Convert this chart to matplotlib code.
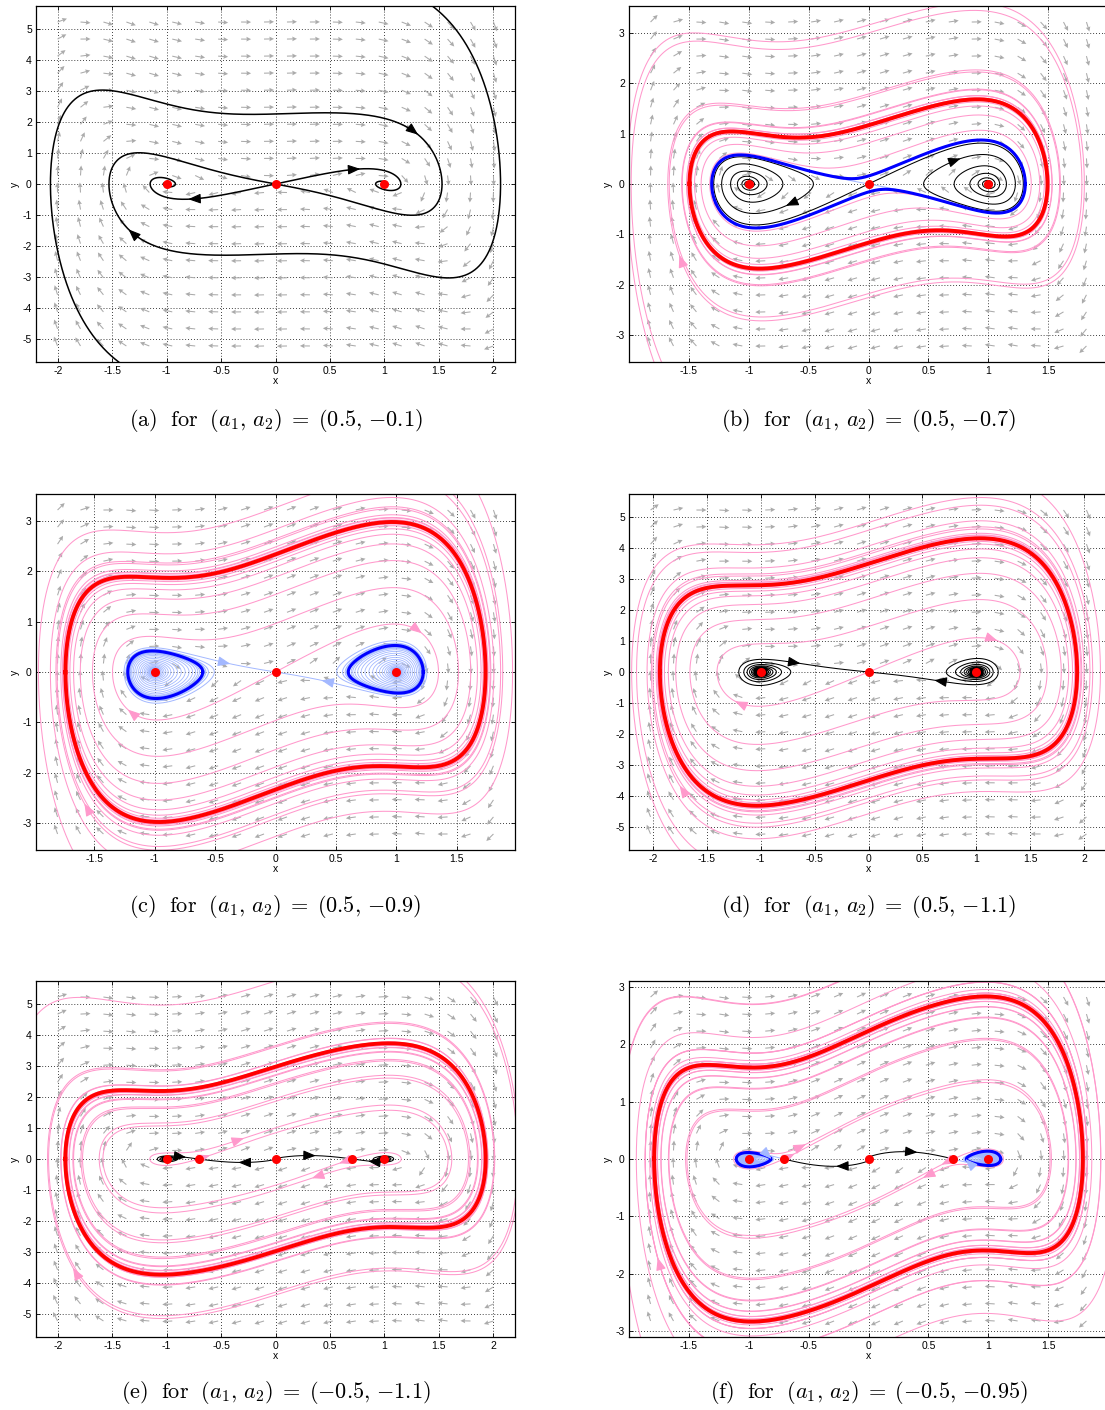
import math
import numpy as np
import matplotlib
matplotlib.use('Agg')
import matplotlib.pyplot as plt

plt.rcParams['mathtext.fontset'] = 'cm'
plt.rcParams['font.family'] = ['Liberation Sans', 'DejaVu Sans']

# system:  x' = y ,  y' = x(1-x^2)(x^2+a1) - (a2+x^2) y
panel_tags = ['a', 'b', 'c', 'd', 'e', 'f']
a1_values = [0.5, 0.5, 0.5, 0.5, -0.5, -0.5]
a2_values = [-0.1, -0.7, -0.9, -1.1, -1.1, -0.95]

x_spans = [2.2, 2.0, 1.98, 2.22, 2.2, 2.0]
y_spans = [5.75, 3.53, 3.53, 5.75, 5.75, 3.1]
wide_x = [-2, -1.5, -1, -0.5, 0, 0.5, 1, 1.5, 2]
narrow_x = [-1.5, -1, -0.5, 0, 0.5, 1, 1.5]
tall_y = [-5, -4, -3, -2, -1, 0, 1, 2, 3, 4, 5]
short_y = [-3, -2, -1, 0, 1, 2, 3]
x_tick_sets = [wide_x, narrow_x, narrow_x, wide_x, wide_x, narrow_x]
y_tick_sets = [tall_y, short_y, short_y, tall_y, tall_y, short_y]

equilibria = [[-1, 0, 1], [-1, 0, 1], [-1, 0, 1], [-1, 0, 1],
              [-1, -0.7071, 0, 0.7071, 1], [-1, -0.7071, 0, 0.7071, 1]]

# seeds for the stable (red) and unstable (blue) limit cycles
red_seeds = [None, (0.0, 1.15), (0.0, 2.3), (0.0, 3.5), (0.0, 3.0), (0.0, 2.2)]
blue_seeds = [[], [(0.0, 0.5)], [(1.1, 0.0), (-1.1, 0.0)], [], [],
              [(1.05, 0.0), (-1.05, 0.0)]]
blue_filled = [False, False, True, False, False, True]

# separatrices: (equilibrium x, 'u'nstable/'s'table, branch, colour, arrow x, arrow y)
manifolds = [
    [(0, 'u', 1, 'black', 0.78, 0.46), (0, 'u', -1, 'black', -0.8, -0.48),
     (0, 's', 1, 'black', 1.31, 1.59), (0, 's', -1, 'black', -1.35, -1.47)],
    [(0, 'u', 1, 'black', 0.77, 0.49), (0, 'u', -1, 'black', -0.69, -0.43),
     (0, 's', 1, 'lightblue', None, None), (0, 's', -1, 'lightblue', None, None)],
    [(0, 'u', 1, 'pink', 1.21, 0.77), (0, 'u', -1, 'pink', -1.23, -0.77),
     (0, 's', 1, 'lightblue', 0.38, -0.17), (0, 's', -1, 'lightblue', -0.37, 0.2)],
    [(0, 'u', 1, 'pink', 1.2, 1.02), (0, 'u', -1, 'pink', -1.24, -0.97),
     (0, 's', 1, 'black', 0.61, -0.27), (0, 's', -1, 'black', -0.63, 0.3)],
    [(0.7071, 'u', 1, 'pink', 0.32, -0.45), (0.7071, 'u', -1, 'pink', 0.6, -0.31),
     (0.7071, 's', 1, 'black', 0.85, -0.1), (0.7071, 's', -1, 'black', 0.37, 0.11),
     (-0.7071, 'u', 1, 'pink', -0.65, 0.33), (-0.7071, 'u', -1, 'pink', -0.28, 0.57),
     (-0.7071, 's', 1, 'black', -0.34, -0.11), (-0.7071, 's', -1, 'black', -0.82, 0.05)],
    [(0.7071, 'u', 1, 'pink', 0.45, -0.31), (0.7071, 'u', -1, 'pink', 0.62, -0.14),
     (0.7071, 's', 1, 'lightblue', 0.8, 0.0), (0.7071, 's', -1, 'black', 0.41, 0.13),
     (-0.7071, 'u', 1, 'pink', -0.66, 0.16), (-0.7071, 'u', -1, 'pink', -0.51, 0.2),
     (-0.7071, 's', 1, 'black', -0.27, -0.15), (-0.7071, 's', -1, 'lightblue', -0.8, 0.0)],
]

# other orbits: (x0, y0, backward time, arrow at start point)
pink_seeds = [
    [],
    [(-1.58, -1.41, 5.0, True), (-1.98, 0.3, 5.0, False), (0.0, 0.45, 40.0, False)],
    [(-1.58, -2.61, 5.0, True), (-1.96, 0.0, 5.0, False), (1.96, 0.0, 5.0, False)],
    [(-1.75, -3.67, 5.0, True), (-2.15, 0.0, 5.0, False), (2.15, 0.0, 5.0, False)],
    [(-1.86, -3.52, 5.0, True), (-1.9, 5.2, 5.0, False)],
    [(-1.76, -1.72, 5.0, True), (-1.97, 2.0, 5.0, False), (-1.91, -3.05, 5.0, False),
     (1.97, -2.0, 5.0, False)],
]

colours = {'black': 'black', 'pink': '#ff99cc', 'lightblue': '#a3b8ff',
           'red': '#ff0000', 'blue': '#0000ff'}

W, H = 1105, 1410
AX_W, AX_H = 479, 356
lefts = [36, 629, 36, 629, 36, 629]
tops = [6, 6, 494, 494, 981, 981]
caption_y = [420, 420, 907, 907, 1393, 1393]


def run(x0, y0, a1, a2, t_max, sign, box, stops):
    xs, ys = [x0], [y0]
    x, y, t = x0, y0, 0.0
    bx, by = box
    n = 0
    moved = False
    while t < t_max:
        u = y
        v = x * (1 - x * x) * (x * x + a1) - (a2 + x * x) * y
        h = sign * 0.005 / max(1.0, math.hypot(u, v) / 3.0)
        xm, ym = x + 0.5 * h * u, y + 0.5 * h * v
        k2x = ym
        k2y = xm * (1 - xm * xm) * (xm * xm + a1) - (a2 + xm * xm) * ym
        xm, ym = x + 0.5 * h * k2x, y + 0.5 * h * k2y
        k3x = ym
        k3y = xm * (1 - xm * xm) * (xm * xm + a1) - (a2 + xm * xm) * ym
        xm, ym = x + h * k3x, y + h * k3y
        k4x = ym
        k4y = xm * (1 - xm * xm) * (xm * xm + a1) - (a2 + xm * xm) * ym
        x += h * (u + 2 * k2x + 2 * k3x + k4x) / 6
        y += h * (v + 2 * k2y + 2 * k3y + k4y) / 6
        t += abs(h)
        xs.append(x)
        ys.append(y)
        if abs(x) > bx or abs(y) > by:
            break
        n += 1
        if n % 10 == 0:
            if not moved:
                moved = (x - x0) ** 2 + (y - y0) ** 2 > 4e-3
            elif any((x - e) ** 2 + y * y < 1e-5 for e in stops):
                break
    xs, ys = np.array(xs), np.array(ys)
    if sign < 0:
        xs, ys = xs[::-1], ys[::-1]
    return xs, ys


def closed_orbit(seed, a1, a2, sign):
    xs, ys = run(seed[0], seed[1], a1, a2, 150.0, sign, (50, 50), [])
    if sign < 0:
        xs, ys = xs[::-1], ys[::-1]
    idx = np.where((ys[:-1] < 0) & (ys[1:] >= 0))[0]
    i0, i1 = idx[-2], idx[-1]
    return xs[i0:i1 + 2], ys[i0:i1 + 2]


def add_arrow(ax, xs, ys, px, py, colour, sx, sy, origin=None):
    d = ((xs - px) * sx) ** 2 + ((ys - py) * sy) ** 2
    if origin is not None:
        # keep the head clear of the saddle it leaves from / runs into
        near = ((xs - origin[0]) * sx) ** 2 + ((ys - origin[1]) * sy) ** 2 < 144
        d = np.where(near, np.inf, d)
    i = int(np.argmin(d))
    j = i
    while j > 0 and ((xs[i] - xs[j]) * sx) ** 2 + ((ys[i] - ys[j]) * sy) ** 2 < 9:
        j -= 1
    if j == i:
        return
    ax.annotate('', xy=(xs[i], ys[i]), xytext=(xs[j], ys[j]),
                arrowprops=dict(arrowstyle='-|>,head_length=0.75,head_width=0.3',
                                color=colour, lw=0.8, shrinkA=0, shrinkB=0,
                                mutation_scale=10),
                zorder=6)


def caption_number(v):
    return '{' + f'{v:g}' + '}'


fig = plt.figure(figsize=(W / 100, H / 100), dpi=100)

for k in range(6):
    a1, a2 = a1_values[k], a2_values[k]
    xl, yl = x_spans[k], y_spans[k]
    ax = fig.add_axes([lefts[k] / W, 1 - (tops[k] + AX_H) / H, AX_W / W, AX_H / H])
    ax.set_xlim(-xl, xl)
    ax.set_ylim(-yl, yl)
    sx, sy = AX_W / (2 * xl), AX_H / (2 * yl)
    stops = equilibria[k]
    edge_box = (1.02 * xl, 1.02 * yl)

    # direction field
    gx = np.linspace(-0.91 * xl, 0.91 * xl, 20)
    gy = np.linspace(-0.91 * yl, 0.91 * yl, 20)
    X, Y = np.meshgrid(gx, gy)
    U = Y * sx
    V = (X * (1 - X ** 2) * (X ** 2 + a1) - (a2 + X ** 2) * Y) * sy
    N = np.hypot(U, V) + 1e-12
    ax.quiver(X, Y, U / N, V / N, angles='uv', scale_units='inches', scale=10,
              pivot='tail', width=0.0022, headwidth=4.5, headlength=4.5,
              headaxislength=4, color='#ababab', zorder=1)

    # limit cycles
    blue_loops = []
    for seed in blue_seeds[k]:
        bx_, by_ = closed_orbit(seed, a1, a2, -1)
        blue_loops.append((bx_, by_, seed))
    if blue_filled[k]:
        for bx_, by_, seed in blue_loops:
            xf = 1.0 if seed[0] > 0 else -1.0
            i = int(np.argmax(by_))
            fx, fy = run(xf + 0.97 * (bx_[i] - xf), 0.97 * by_[i], a1, a2, 200.0, 1,
                         (50, 50), stops)
            ax.plot(fx, fy, color=colours['lightblue'], lw=0.6, zorder=2.5)

    # separatrices of the saddles
    for xe, kind, branch, cname, arx, ary in manifolds[k]:
        fp = a1 + 3 * (1 - a1) * xe ** 2 - 5 * xe ** 4
        tr = -(a2 + xe ** 2)
        disc = math.sqrt(tr * tr + 4 * fp)
        lam = (tr + disc) / 2 if kind == 'u' else (tr - disc) / 2
        nv = math.hypot(1, lam)
        x0 = xe + branch * 1e-4 / nv
        y0 = branch * 1e-4 * lam / nv
        if kind == 'u':
            t_max = 50.0 if cname == 'pink' else 150.0
            mx, my = run(x0, y0, a1, a2, t_max, 1, (50, 50), stops)
        else:
            t_max = 60.0 if cname == 'lightblue' else 150.0
            mx, my = run(x0, y0, a1, a2, t_max, -1, (1.3 * xl, 1.3 * yl), stops)
        lw = 1.1 if k == 0 else (0.75 if cname != 'lightblue' else 0.7)
        z = {'black': 3, 'pink': 2, 'lightblue': 2.6}[cname]
        ax.plot(mx, my, color=colours[cname], lw=lw, zorder=z)
        if arx is not None:
            add_arrow(ax, mx, my, arx, ary, colours[cname], sx, sy, origin=(xe, 0.0))

    # other orbits
    for px0, py0, t_back, with_arrow in pink_seeds[k]:
        fx, fy = run(px0, py0, a1, a2, 40.0, 1, (4 * xl, 4 * yl), stops)
        bx2, by2 = run(px0, py0, a1, a2, t_back, -1, edge_box, stops)
        ox = np.concatenate([bx2, fx[1:]])
        oy = np.concatenate([by2, fy[1:]])
        ax.plot(ox, oy, color=colours['pink'], lw=0.75, zorder=2)
        if with_arrow:
            add_arrow(ax, ox, oy, px0, py0, colours['pink'], sx, sy)

    for bx_, by_, seed in blue_loops:
        ax.plot(bx_, by_, color=colours['blue'], lw=2.2, zorder=4)
    if red_seeds[k] is not None:
        rx, ry = closed_orbit(red_seeds[k], a1, a2, 1)
        ax.plot(rx, ry, color=colours['red'], lw=2.8, zorder=4)

    ax.plot(stops, np.zeros(len(stops)), 'o', color='red', ms=6.5, mec='none', zorder=7)

    ax.set_xticks(x_tick_sets[k])
    ax.set_yticks(y_tick_sets[k])
    ax.set_xticklabels([f'{v:g}' for v in x_tick_sets[k]])
    ax.set_yticklabels([f'{v:g}' for v in y_tick_sets[k]])
    ax.grid(True, color='black', linestyle=(0, (1, 2.5)), linewidth=0.6)
    ax.set_axisbelow(True)
    ax.tick_params(direction='in', length=3, width=0.6, top=True, right=True,
                   labelsize=7.5, pad=3)
    for sp in ax.spines.values():
        sp.set_linewidth(0.9)
    ax.set_xlabel('x', fontsize=7.5, labelpad=0)
    ax.set_ylabel('y', fontsize=7.5, labelpad=2)

    caption = (r'$\mathrm{(' + panel_tags[k] + r')}\ \ \mathrm{for}\ \ (a_1,\, a_2)\;=\;('
               + caption_number(a1) + r',\, ' + caption_number(a2) + r')$')
    fig.text((lefts[k] + AX_W / 2) / W, 1 - caption_y[k] / H, caption,
             ha='center', va='center', fontsize=16)

fig.savefig('out.png', dpi=100)
